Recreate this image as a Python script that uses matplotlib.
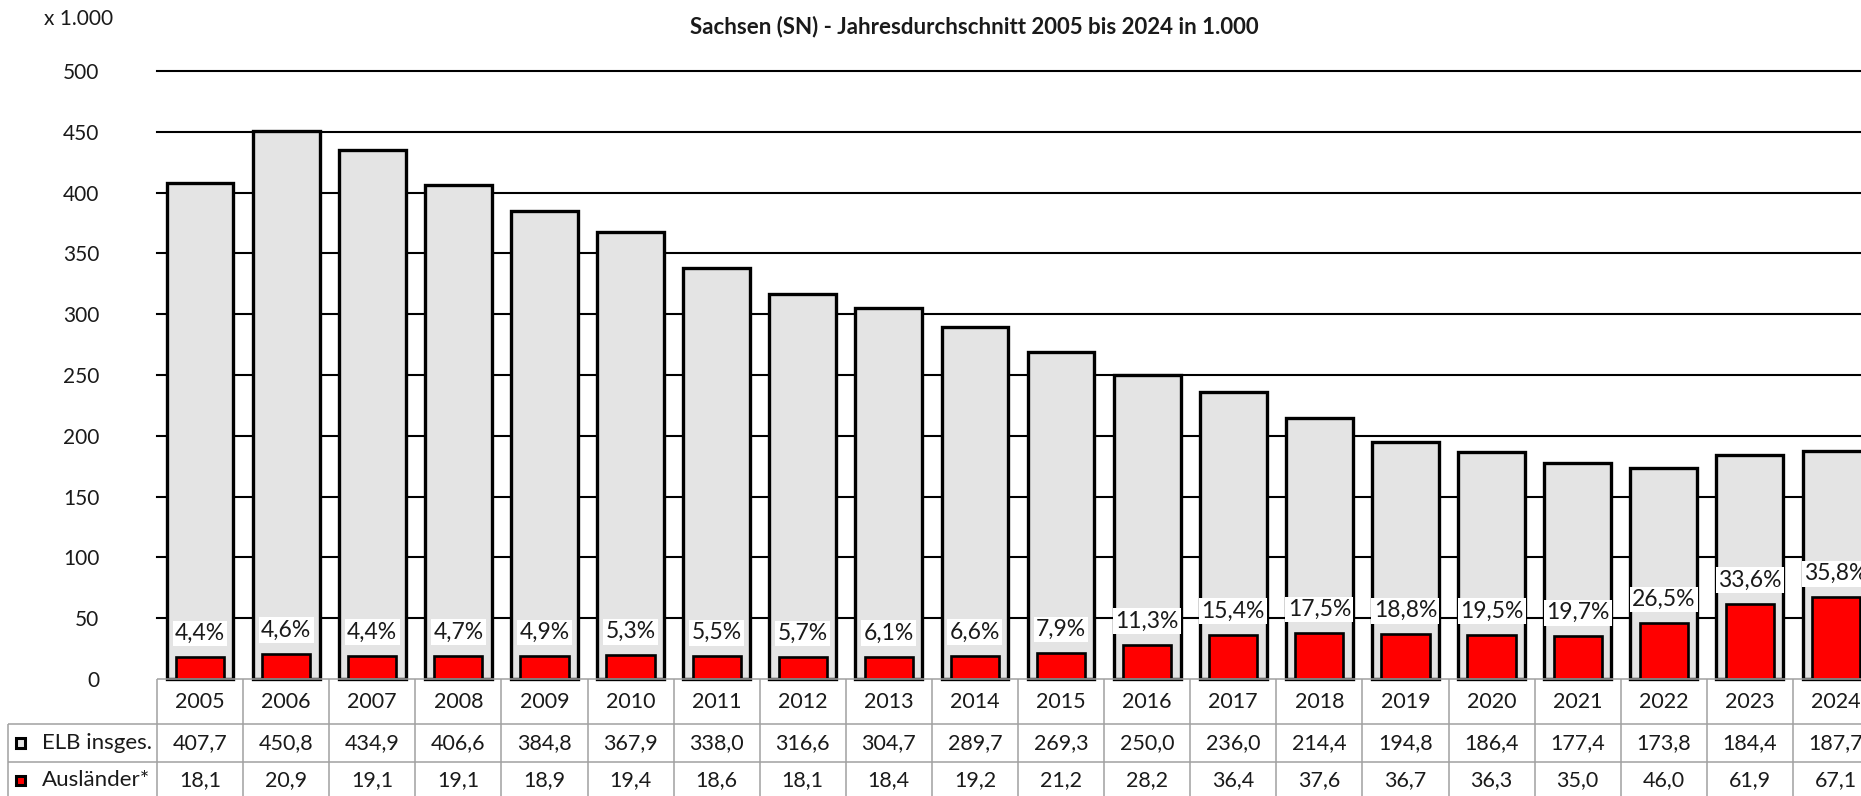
import matplotlib
matplotlib.use('Agg')
import matplotlib.pyplot as plt
from matplotlib.patches import Rectangle

# ---------------- data ----------------
years = [str(y) for y in range(2005, 2025)]
elb = [407.7, 450.8, 434.9, 406.6, 384.8, 367.9, 338.0, 316.6, 304.7, 289.7,
       269.3, 250.0, 236.0, 214.4, 194.8, 186.4, 177.4, 173.8, 184.4, 187.7]
auslaender = [18.1, 20.9, 19.1, 19.1, 18.9, 19.4, 18.6, 18.1, 18.4, 19.2,
              21.2, 28.2, 36.4, 37.6, 36.7, 36.3, 35.0, 46.0, 61.9, 67.1]
anteil = ["4,4%", "4,6%", "4,4%", "4,7%", "4,9%", "5,3%", "5,5%", "5,7%", "6,1%", "6,6%",
          "7,9%", "11,3%", "15,4%", "17,5%", "18,8%", "19,5%", "19,7%", "26,5%", "33,6%", "35,8%"]
yticks = [0, 50, 100, 150, 200, 250, 300, 350, 400, 450, 500]
row_labels = ["ELB insges.", "Ausländer*"]
title = "Sachsen (SN) - Jahresdurchschnitt 2005 bis 2024 in 1.000"
unit_label = "x 1.000"

# ---------------- style ----------------
plt.rcParams['font.family'] = ['Lato', 'DejaVu Sans']
TXT = '#1a1a1a'
GRAY_FILL = '#e4e4e4'
RED = '#ff0000'
GRID_T = '#a0a0a0'
FS = 15.5

W, H = 1861, 796
fig = plt.figure(figsize=(W / 100, H / 100), dpi=100)

L, R = 157, 1879          # plot extends slightly past right edge (cropped like the original)
Y0, YTOP = 679, 71
ax = fig.add_axes([L / W, 1 - Y0 / H, (R - L) / W, (Y0 - YTOP) / H])
n = len(years)
x = list(range(n))
ax.set_xlim(-0.5, n - 0.5)
ax.set_ylim(0, 500)
for s in ax.spines.values():
    s.set_visible(False)
ax.set_xticks([])
ax.set_yticks(yticks)
ax.set_yticklabels([str(t) for t in yticks], fontsize=15, color=TXT)
ax.tick_params(axis='y', length=0, pad=41.5)

for t in yticks[1:]:
    ax.axhline(t, color='black', lw=1.5, zorder=0, clip_on=False)

ax.bar(x, elb, width=0.775, color=GRAY_FILL, edgecolor='black', linewidth=2.4,
       zorder=2, clip_on=False)
ax.bar(x, auslaender, width=0.56, color=RED, edgecolor='black', linewidth=1.9,
       zorder=3, clip_on=False)

for i in x:
    ax.annotate(anteil[i], xy=(i, auslaender[i]), xytext=(0, 17), textcoords='offset points',
                ha='center', va='center', fontsize=16.5, color=TXT, zorder=4,
                bbox=dict(boxstyle='square,pad=0.1', fc='white', ec='none'))

fig.text(44 / W, 1 - 19 / H, unit_label, ha='left', va='center', fontsize=15, color=TXT)
fig.text(974 / W, 1 - 27 / H, title, ha='center', va='center', fontsize=16,
         fontweight='bold', color=TXT)

# ---------------- data table ----------------
rows = [679, 724, 761.5, 799]
tax = fig.add_axes([L / W, (H - rows[-1]) / H, (R - L) / W, (rows[-1] - rows[0]) / H])
tax.set_xlim(-0.5, n - 0.5)
tax.set_ylim(rows[-1], rows[0])
tax.axis('off')

def px2x(px):
    return -0.5 + (px - L) / ((R - L) / n)

xl = px2x(8.3)
kw = dict(color=GRID_T, lw=1.1, clip_on=False, solid_capstyle='butt')
tax.plot([-0.5, n - 0.5], [rows[0], rows[0]], **kw)
for yy in rows[1:3]:
    tax.plot([xl, n - 0.5], [yy, yy], **kw)
for k in range(n + 1):
    tax.plot([-0.5 + k, -0.5 + k], [rows[0], rows[-1]], **kw)
tax.plot([xl, xl], [rows[1], rows[-1]], **kw)

yc = [(rows[j] + rows[j + 1]) / 2 for j in range(3)]
for i in x:
    tax.text(i, yc[0], years[i], ha='center', va='center', fontsize=FS, color=TXT, clip_on=False)
    tax.text(i, yc[1], f"{elb[i]:.1f}".replace('.', ','), ha='center', va='center',
             fontsize=FS, color=TXT, clip_on=False)
    tax.text(i, yc[2], f"{auslaender[i]:.1f}".replace('.', ','), ha='center', va='center',
             fontsize=FS, color=TXT, clip_on=False)

sq = 9.5
for j, (lab, fc) in enumerate(zip(row_labels, [GRAY_FILL, RED])):
    cy = yc[j + 1]
    x0 = px2x(16)
    tax.add_patch(Rectangle((x0, cy - sq / 2), sq / ((R - L) / n), sq, fc=fc, ec='black',
                            lw=2.2, clip_on=False))
    tax.text(px2x(41.5), cy, lab, ha='left', va='center', fontsize=FS + 0.5, color=TXT,
             clip_on=False)

fig.savefig('out.png', dpi=100)
